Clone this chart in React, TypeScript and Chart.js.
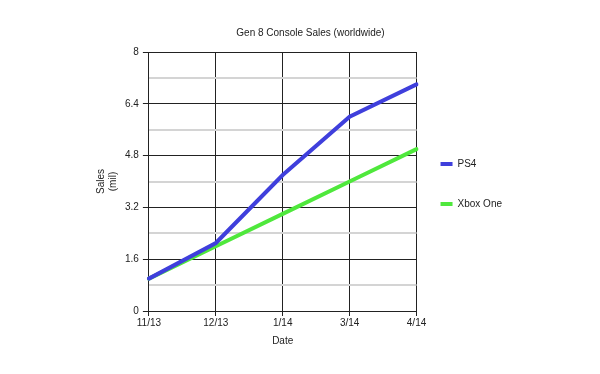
import React, { useEffect, useRef } from "react";
import { Chart, registerables } from "chart.js";

Chart.register(...registerables);

const categories = ["11/13", "12/13", "1/14", "3/14", "4/14"];
const ps4Values = [1, 2.1, 4.2, 6, 7];
const xboxValues = [1, 2, 3, 4, 5];
const majorTicks = [0, 1.6, 3.2, 4.8, 6.4, 8];

const FONT = "'Liberation Sans', Arial, sans-serif";

export default function App() {
  const ref = useRef<HTMLCanvasElement | null>(null);
  useEffect(() => {
    if (!ref.current) return;
    const isMajor = (v: number) => majorTicks.some((m) => Math.abs(m - v) < 1e-6);
    const baseLabels = (Chart as any).defaults.plugins.legend.labels.generateLabels;
    const chart = new Chart(ref.current, {
      type: "line",
      data: {
        labels: categories,
        datasets: [
          {
            label: "PS4",
            data: ps4Values,
            borderColor: "#3f3fdc",
            backgroundColor: "#3f3fdc",
            borderWidth: 4,
            borderCapStyle: "round",
            pointRadius: 0,
            tension: 0,
          },
          {
            label: "Xbox One",
            data: xboxValues,
            borderColor: "#4fe83c",
            backgroundColor: "#4fe83c",
            borderWidth: 4,
            borderCapStyle: "round",
            pointRadius: 0,
            tension: 0,
          },
        ],
      },
      options: {
        animation: false,
        responsive: false,
        maintainAspectRatio: false,
        layout: { padding: { left: 109, right: 88, top: 27, bottom: 27 } },
        plugins: {
          title: {
            display: true,
            text: "Gen 8 Console Sales (worldwide)",
            color: "#222",
            font: { family: FONT, size: 10, weight: "normal" },
            padding: { top: 0, bottom: 13 },
          },
          legend: {
            position: "right",
            align: "center",
            labels: {
              color: "#222",
              font: { family: FONT, size: 10, lineHeight: 1.6 },
              usePointStyle: true,
              pointStyle: "line",
              pointStyleWidth: 12,
              padding: 24,
              generateLabels: (c: any) =>
                baseLabels(c).map((l: any) => ({ ...l, text: [l.text] })),
            },
          },
          tooltip: { enabled: false },
        },
        scales: {
          x: {
            offset: false,
            grid: {
              color: "#222",
              lineWidth: 1,
              tickColor: "#222",
              tickLength: 5,
            },
            border: { color: "#222", width: 1 },
            ticks: {
              color: "#222",
              font: { family: FONT, size: 10 },
              maxRotation: 0,
              padding: 1,
            },
            title: {
              display: true,
              text: "Date",
              color: "#222",
              font: { family: FONT, size: 10 },
              padding: { top: 5, bottom: 0 },
            },
          },
          y: {
            min: 0,
            max: 8,
            grid: {
              color: (ctx: any) => (isMajor(ctx.tick?.value ?? 0) ? "#222" : "#d4d4d4"),
              lineWidth: (ctx: any) => (isMajor(ctx.tick?.value ?? 0) ? 1 : 2),
              tickColor: (ctx: any) => (isMajor(ctx.tick?.value ?? 0) ? "#222" : "rgba(0,0,0,0)"),
              tickLength: 6,
            },
            border: { color: "#222", width: 1 },
            ticks: {
              stepSize: 0.8,
              color: "#222",
              font: { family: FONT, size: 10 },
              padding: 4,
              callback: (v: any) => (isMajor(Number(v)) ? String(Math.round(Number(v) * 10) / 10) : ""),
            },
            title: {
              display: true,
              text: ["Sales", "(mil)"],
              color: "#222",
              font: { family: FONT, size: 10 },
              padding: { top: -14, bottom: 2 },
            },
          },
        },
      },
    });
    return () => chart.destroy();
  }, []);
  return (
    <div style={{ position: "fixed", left: 0, top: 0, width: 600, height: 374, background: "#fff" }}>
      <canvas ref={ref} width={600} height={374} style={{ width: 600, height: 374 }} />
    </div>
  );
}
